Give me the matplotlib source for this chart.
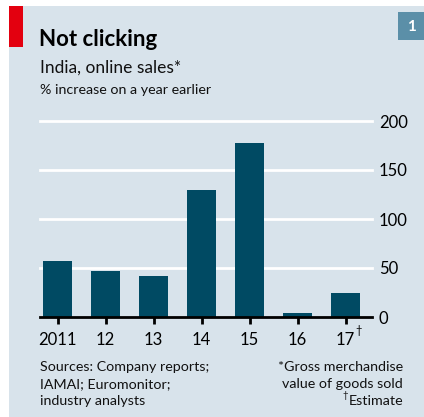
import matplotlib
matplotlib.use("Agg")
import matplotlib.pyplot as plt
from matplotlib.patches import Rectangle

categories = ["2011", "12", "13", "14", "15", "16", "17"]
values = [57, 47, 42, 130, 178, 4, 24.5]
yticks = [0, 50, 100, 150, 200]

BG = "#d8e3eb"
BAR = "#004a63"
plt.rcParams['font.family'] = ['Lato', 'DejaVu Sans']

W, H = 424, 417
fig = plt.figure(figsize=(W/100, H/100), dpi=100)
fig.patch.set_facecolor("white")

def fx(px):
    return px / W

def fy(py):
    return 1 - py / H

# background panel
fig.patches.append(Rectangle((fx(9), 0), 1 - fx(9), fy(6), transform=fig.transFigure,
                             facecolor=BG, edgecolor="none", zorder=-2))
# red tab
fig.patches.append(Rectangle((fx(9), fy(47)), fx(23) - fx(9), fy(6) - fy(47),
                             transform=fig.transFigure, facecolor="#e3000f",
                             edgecolor="none", zorder=-1))
# number box
fig.patches.append(Rectangle((fx(398), fy(40)), 1 - fx(398), fy(12) - fy(40),
                             transform=fig.transFigure, facecolor="#5b8fa8",
                             edgecolor="none", zorder=-1))
fig.text(fx(411), fy(27), "1", color="white", fontsize=11, fontweight="bold",
         ha="center", va="center")

fig.text(fx(39), fy(39), "Not clicking", fontsize=16, fontweight="bold",
         ha="left", va="center", color="black")
fig.text(fx(40), fy(68), "India, online sales*", fontsize=12.5,
         ha="left", va="center", color="#111111")
fig.text(fx(40), fy(90), "% increase on a year earlier", fontsize=10.3,
         ha="left", va="center", color="#111111")

ax = fig.add_axes([fx(40), fy(317), fx(372) - fx(40), fy(121) - fy(317)])
ax.set_zorder(2)
ax.set_facecolor("none")
x = list(range(len(categories)))
ax.bar(x, values, width=0.6, color=BAR, zorder=3)
ax.set_xlim(-0.365, 6.55)
ax.set_ylim(0, 200)

for t in yticks[1:]:
    ax.axhline(t, color="white", lw=2, zorder=1, clip_on=False)
ax.axhline(0, color="black", lw=2, zorder=4, clip_on=False)

for s in ax.spines.values():
    s.set_visible(False)
ax.yaxis.tick_right()
ax.set_yticks(yticks)
ax.set_yticklabels([str(t) for t in yticks])
ax.tick_params(axis="y", length=0, pad=5, labelsize=12)
ax.set_xticks(x)
ax.set_xticklabels(categories)
ax.tick_params(axis="x", length=5, width=2, color="black", pad=6, labelsize=12,
               direction="out")

fig.text(fx(355), fy(331), "†", fontsize=8, ha="left", va="center")

src_lines = ["Sources: Company reports;", "IAMAI; Euromonitor;", "industry analysts"]
note_lines = ["*Gross merchandise", "value of goods sold", "Estimate"]
for i, yy in enumerate([367, 384, 401]):
    fig.text(fx(40), fy(yy), src_lines[i], fontsize=10.3, ha="left", va="center",
             color="#111111")
    fig.text(fx(403), fy(yy), note_lines[i], fontsize=10.3, ha="right", va="center",
             color="#111111")
fig.text(fx(348), fy(396), "†", fontsize=7, ha="right", va="center", color="#111111")

fig.savefig("out.png", dpi=100, facecolor=fig.get_facecolor())
